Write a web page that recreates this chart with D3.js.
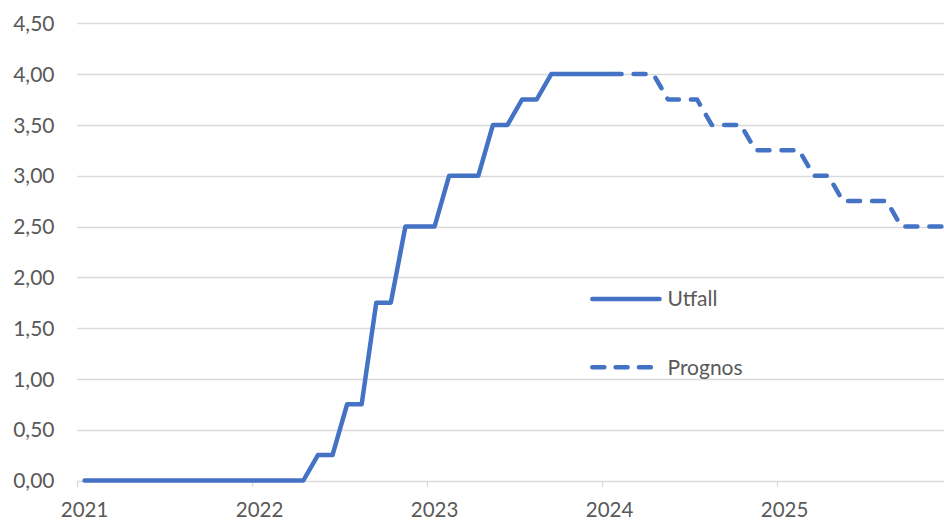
<!DOCTYPE html>
<html>
<head>
<meta charset="utf-8">
<script src="https://cdn.jsdelivr.net/npm/d3@7"></script>
<style>
  html, body { margin: 0; padding: 0; background: #fff; }
  svg { display: block; }
  text { font-family: Lato, "Open Sans", sans-serif; fill: #595959; }
</style>
</head>
<body>
<svg id="chart" width="944" height="521"></svg>
<script>
// ---- Data ----
const yearLabels = ["2021", "2022", "2023", "2024", "2025"];
const yTicks = [0, 0.5, 1, 1.5, 2, 2.5, 3, 3.5, 4, 4.5];
// Monthly values, Utfall from Jan 2021 through Jan 2024
const utfall = [
  0, 0, 0, 0, 0, 0, 0, 0, 0, 0, 0, 0,
  0, 0, 0, 0, 0.25, 0.25, 0.75, 0.75, 1.75, 1.75, 2.5, 2.5,
  2.5, 3, 3, 3, 3.5, 3.5, 3.75, 3.75, 4, 4, 4, 4,
  4
];
// Prognos from Jan 2024 through Dec 2025
const prognosStart = 36; // month index of Jan 2024
const prognos = [
  4, 4, 4, 4, 3.75, 3.75, 3.75, 3.5, 3.5, 3.5, 3.25, 3.25,
  3.25, 3.25, 3, 3, 2.75, 2.75, 2.75, 2.75, 2.5, 2.5, 2.5, 2.5
];
const seriesNames = ["Utfall", "Prognos"];

// ---- Layout ----
const svg = d3.select("#chart");
const color = "#4472C4";
const gridColor = "#D9D9D9";
const lineW = 4.5;
const dash = "12,12";

const x = d3.scaleLinear().domain([0, 60]).range([77.3, 952.3]);
const y = d3.scaleLinear().domain([0, 4.5]).range([480.5, 23.3]);

// gridlines
svg.append("g").selectAll("line").data(yTicks.filter(d => d > 0)).join("line")
  .attr("x1", x(0)).attr("x2", 944)
  .attr("y1", d => Math.round(y(d)) + 0.5).attr("y2", d => Math.round(y(d)) + 0.5)
  .attr("stroke", gridColor).attr("stroke-width", 1.3);

// x axis line and ticks
const xAxisY = Math.round(y(0)) + 0.5;
svg.append("line").attr("x1", x(0)).attr("x2", 944)
  .attr("y1", xAxisY).attr("y2", xAxisY)
  .attr("stroke", gridColor).attr("stroke-width", 1.3);
const yearIdx = yearLabels.map((d, i) => i * 12);
svg.append("g").selectAll("line").data(yearIdx).join("line")
  .attr("x1", d => Math.round(x(d)) + 0.5).attr("x2", d => Math.round(x(d)) + 0.5)
  .attr("y1", xAxisY).attr("y2", xAxisY + 5.5)
  .attr("stroke", gridColor).attr("stroke-width", 1.3);

// x labels (centred on the January point)
svg.append("g").selectAll("text").data(yearLabels).join("text")
  .attr("x", (d, i) => x(i * 12 + 0.5))
  .attr("y", 516.5)
  .attr("text-anchor", "middle")
  .style("font-size", "20.5px")
  .text(d => d);

// y labels
const fmt = d => d3.format(".2f")(d).replace(".", ",");
svg.append("g").selectAll("text").data(yTicks).join("text")
  .attr("x", 54.5)
  .attr("y", d => y(d) + 7.6)
  .attr("text-anchor", "end")
  .style("font-size", "21px")
  .text(fmt);

// lines
const line = d3.line().x(d => x(d.i + 0.5)).y(d => y(d.v));
const utfallPts = utfall.map((v, i) => ({ i, v }));
const prognosPts = prognos.map((v, k) => ({ i: prognosStart + k, v }));

svg.append("path").datum(prognosPts)
  .attr("d", line)
  .attr("fill", "none").attr("stroke", color).attr("stroke-width", lineW)
  .attr("stroke-linecap", "round").attr("stroke-linejoin", "round")
  .attr("stroke-dasharray", dash);

svg.append("path").datum(utfallPts)
  .attr("d", line)
  .attr("fill", "none").attr("stroke", color).attr("stroke-width", lineW)
  .attr("stroke-linecap", "round").attr("stroke-linejoin", "round");

// legend
const legend = svg.append("g");
const legY = [299, 367.3];
seriesNames.forEach((name, k) => {
  legend.append("line")
    .attr("x1", 592.3).attr("x2", 659.5)
    .attr("y1", legY[k]).attr("y2", legY[k])
    .attr("stroke", color).attr("stroke-width", lineW)
    .attr("stroke-linecap", "round")
    .attr("stroke-dasharray", k === 1 ? "12,11.3" : null);
  legend.append("text")
    .attr("x", 667.5).attr("y", legY[k] + 7.3)
    .style("font-size", "21px")
    .text(name);
});
</script>
</body>
</html>
